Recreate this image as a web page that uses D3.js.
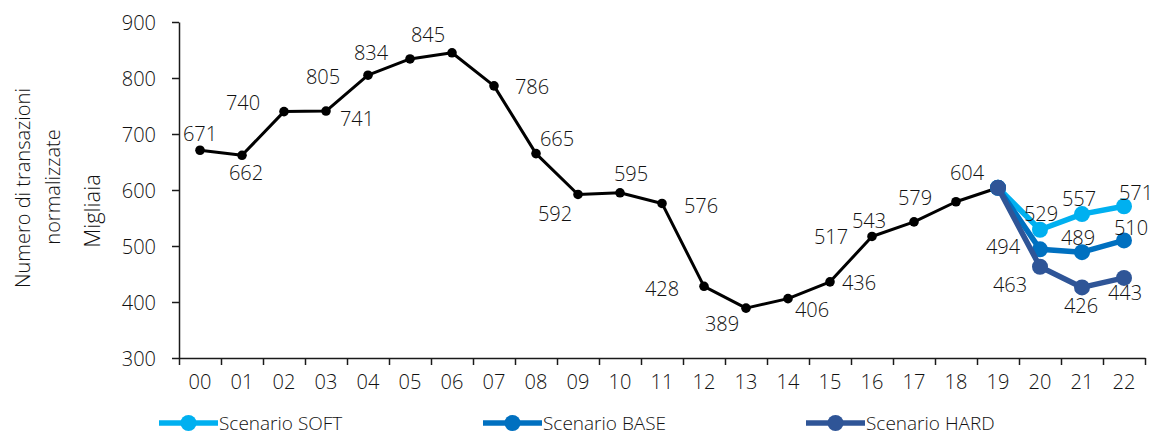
<!DOCTYPE html>
<html>
<head>
<meta charset="utf-8">
<script src="https://cdn.jsdelivr.net/npm/d3@7"></script>
<style>
  html, body { margin: 0; padding: 0; background: #fff; }
  svg text { font-family: "Open Sans", "Noto Sans", sans-serif; font-weight: 300; fill: #111; }
</style>
</head>
<body>
<svg id="chart" width="1159" height="436"></svg>
<script>
// Years (two-digit) on the category axis
const years = ["00","01","02","03","04","05","06","07","08","09","10",
               "11","12","13","14","15","16","17","18","19","20","21","22"];

// Historical series, 2000-2019 (thousands)
const historical = [671, 662, 740, 741, 805, 834, 845, 786, 665, 592, 595,
                    576, 428, 389, 406, 436, 517, 543, 579, 604];

// Scenario projections, starting from 2019
const scenarioYears = ["19", "20", "21", "22"];
const soft = [604, 529, 557, 571];
const base = [604, 494, 489, 510];
const hard = [604, 463, 426, 443];

const yTicks = [300, 400, 500, 600, 700, 800, 900];

// Label placement around each point (dx, dy in px)
const histLabelOffsets = [
  [0,-17],[4,17],[-41,-9],[31,7],[-45,1],[-39,-6],[-24,-18],[38,1],[21,-15],[-23,19],
  [11,-19],[39,2],[-42,2],[-24,15],[24,11],[29,1],[-41,0],[-45,-1],[-41,-4],[-31,-15]
];
const softLabelOffsets = [null, [1,-16], [-3,-16], [12,-14]];
const baseLabelOffsets = [null, [-37,-3], [-4,-15], [7,-13]];
const hardLabelOffsets = [null, [-30,18], [-1,18], [1,15]];

const svg = d3.select("#chart");
const plotLeft = 179, plotRight = 1145, plotTop = 22, plotBottom = 358;

const x = d3.scaleBand().domain(years).range([plotLeft, plotRight]).padding(0);
const xc = d => x(d) + x.bandwidth() / 2;
const xIdx = d3.scaleLinear().domain([0, years.length]).range([plotLeft, plotRight]);
const y = d3.scaleLinear().domain([300, 900]).range([plotBottom, plotTop]);

// Y axis
const yAxis = svg.append("g")
  .attr("transform", `translate(${plotLeft},0)`)
  .call(d3.axisLeft(y).tickValues(yTicks).tickSize(7).tickPadding(16).tickSizeOuter(0));
yAxis.selectAll("text").style("font-size", "20px").attr("dy", "0.35em");
yAxis.selectAll("line, path").attr("stroke", "#1a1a1a").attr("stroke-width", 1.5);

// X axis: category labels centred, tick marks between categories
const xAxisTicks = svg.append("g")
  .attr("transform", `translate(0,${plotBottom})`)
  .call(d3.axisBottom(xIdx).tickValues(d3.range(years.length + 1)).tickFormat("").tickSize(7).tickSizeOuter(0));
xAxisTicks.selectAll("line, path").attr("stroke", "#1a1a1a").attr("stroke-width", 1.5);

const xAxisLabels = svg.append("g")
  .attr("transform", `translate(0,${plotBottom})`)
  .call(d3.axisBottom(x).tickSize(0).tickPadding(17));
xAxisLabels.select(".domain").remove();
xAxisLabels.selectAll("text").style("font-size", "20px");

// Y axis title
const titleG = svg.append("g");
titleG.append("text")
  .attr("transform", "translate(22,188) rotate(-90)")
  .attr("text-anchor", "middle").attr("dominant-baseline", "central")
  .style("font-size", "20px").text("Numero di transazioni");
titleG.append("text")
  .attr("transform", "translate(52,187) rotate(-90)")
  .attr("text-anchor", "middle").attr("dominant-baseline", "central")
  .style("font-size", "20px").text("normalizzate");
titleG.append("text")
  .attr("transform", "translate(91,211) rotate(-90)")
  .attr("text-anchor", "middle").attr("dominant-baseline", "central")
  .style("font-size", "22px").text("Migliaia");

// Historical line
const histYears = years.slice(0, historical.length);
const line = d3.line().x(d => xc(d[0])).y(d => y(d[1]));
const histPts = histYears.map((yr, i) => [yr, historical[i]]);

svg.append("path").datum(histPts)
  .attr("d", line).attr("fill", "none")
  .attr("stroke", "#000").attr("stroke-width", 3).attr("stroke-linejoin", "round");
svg.append("g").selectAll("circle").data(histPts).join("circle")
  .attr("cx", d => xc(d[0])).attr("cy", d => y(d[1])).attr("r", 4.8).attr("fill", "#000");

// Scenario lines
const scenarios = [
  { name: "Scenario SOFT", color: "#00B0F0", values: soft, offsets: softLabelOffsets },
  { name: "Scenario BASE", color: "#0070C0", values: base, offsets: baseLabelOffsets },
  { name: "Scenario HARD", color: "#2F5597", values: hard, offsets: hardLabelOffsets }
];

scenarios.forEach(s => {
  const pts = scenarioYears.map((yr, i) => [yr, s.values[i]]);
  svg.append("path").datum(pts)
    .attr("d", line).attr("fill", "none")
    .attr("stroke", s.color).attr("stroke-width", 5.5).attr("stroke-linejoin", "round");
  svg.append("g").selectAll("circle").data(pts).join("circle")
    .attr("cx", d => xc(d[0])).attr("cy", d => y(d[1])).attr("r", 8).attr("fill", s.color);
});

// Data labels
const labelG = svg.append("g").style("font-size", "20px");
histPts.forEach((d, i) => {
  const o = histLabelOffsets[i];
  labelG.append("text")
    .attr("x", xc(d[0]) + o[0]).attr("y", y(d[1]) + o[1])
    .attr("text-anchor", "middle").attr("dominant-baseline", "central")
    .text(d[1]);
});
scenarios.forEach(s => {
  scenarioYears.forEach((yr, i) => {
    const o = s.offsets[i];
    if (!o) return;
    labelG.append("text")
      .attr("x", xc(yr) + o[0]).attr("y", y(s.values[i]) + o[1])
      .attr("text-anchor", "middle").attr("dominant-baseline", "central")
      .text(s.values[i]);
  });
});

// Legend
const legendX = [159, 483, 806];
const legend = svg.append("g");
scenarios.forEach((s, i) => {
  const g = legend.append("g").attr("transform", `translate(${legendX[i]},423)`);
  g.append("line").attr("x1", 0).attr("x2", 59).attr("y1", 0).attr("y2", 0)
    .attr("stroke", s.color).attr("stroke-width", 5.5);
  g.append("circle").attr("cx", 29.5).attr("cy", 0).attr("r", 8).attr("fill", s.color);
  g.append("text").attr("x", 60).attr("y", 0)
    .attr("dominant-baseline", "central").style("font-size", "19px").text(s.name);
});
</script>
</body>
</html>
